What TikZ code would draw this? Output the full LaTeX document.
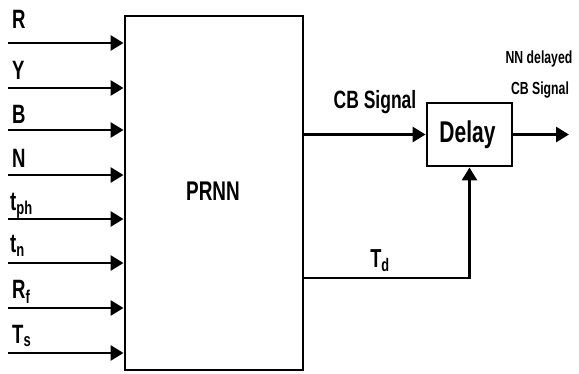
\documentclass[tikz,border=0pt]{standalone}
\usepackage{fontspec}
\setmainfont{Liberation Sans}[FakeStretch=0.7]
\usetikzlibrary{arrows.meta}
\tikzset{
  wire/.style={line width=2.9pt},
  arr/.style={wire,-{Triangle[length=13pt,width=15pt]}},
  blk/.style={draw,line width=2.9pt,inner sep=0pt,fill=white},
  inlab/.style={anchor=base west,inner sep=0pt,font=\fontsize{26.5}{28}\selectfont\bfseries},
}
\begin{document}
\begin{tikzpicture}[x=1pt,y=-1pt]
\useasboundingbox (0,0) rectangle (579,373);
% main block
\node[blk,minimum width=178pt,minimum height=354pt] (prnn) at (214,193) {};
\node[anchor=base,inner sep=0pt,font=\fontsize{27}{30}\selectfont\bfseries] (prnnlab) at (213,200) {PRNN};
% delay block
\node[blk,minimum width=85pt,minimum height=63pt] (delay) at (469.5,134.5) {};
\node[anchor=base,inner sep=0pt,font=\fontsize{30}{32}\selectfont\bfseries] (delaylab) at (467.5,142) {Delay};
% input start coordinates
\coordinate (i1) at (8,43);
\coordinate (i2) at (8,88);
\coordinate (i3) at (8,130);
\coordinate (i4) at (8,175);
\coordinate (i5) at (8,219);
\coordinate (i6) at (8,263);
\coordinate (i7) at (8,308);
\coordinate (i8) at (8,353);
\foreach \k in {1,...,8}{\draw[arr] (i\k) -- (i\k -| prnn.west);}
% input labels
\node[inlab] (l1) at (12,28) {R};
\node[inlab] (l2) at (12,79) {Y};
\node[inlab] (l3) at (12,123) {B};
\node[inlab] (l4) at (12,167) {N};
\node[inlab] (l5) at (10,210) {t\textsubscript{ph}};
\node[inlab] (l6) at (10,252.5) {t\textsubscript{n}};
\node[inlab] (l7) at (12,298.5) {R\textsubscript{f}};
\node[inlab] (l8) at (12,343) {T\textsubscript{s}};
% CB signal
\draw[arr] (prnn.east |- delay.west) -- (delay.west);
\node[anchor=base,inner sep=0pt,font=\fontsize{25}{27}\selectfont\bfseries] (cblab) at (375,108) {CB Signal};
% output
\coordinate (out) at (569,134.5);
\draw[arr] (delay.east) -- (out);
\node[anchor=base,inner sep=0pt,font=\fontsize{17.5}{19}\selectfont\bfseries] (nnlab1) at (539,63) {NN delayed};
\node[anchor=base,inner sep=0pt,font=\fontsize{17.5}{19}\selectfont\bfseries] (nnlab2) at (540,94) {CB Signal};
% Td
\coordinate (tds) at (prnn.east |- 0,278);
\draw[arr] (tds) -| (delay.south);
\node[anchor=base,inner sep=0pt,font=\fontsize{26}{28}\selectfont\bfseries] (tdlab) at (380,267) {T\textsubscript{d}};
\end{tikzpicture}
\end{document}
